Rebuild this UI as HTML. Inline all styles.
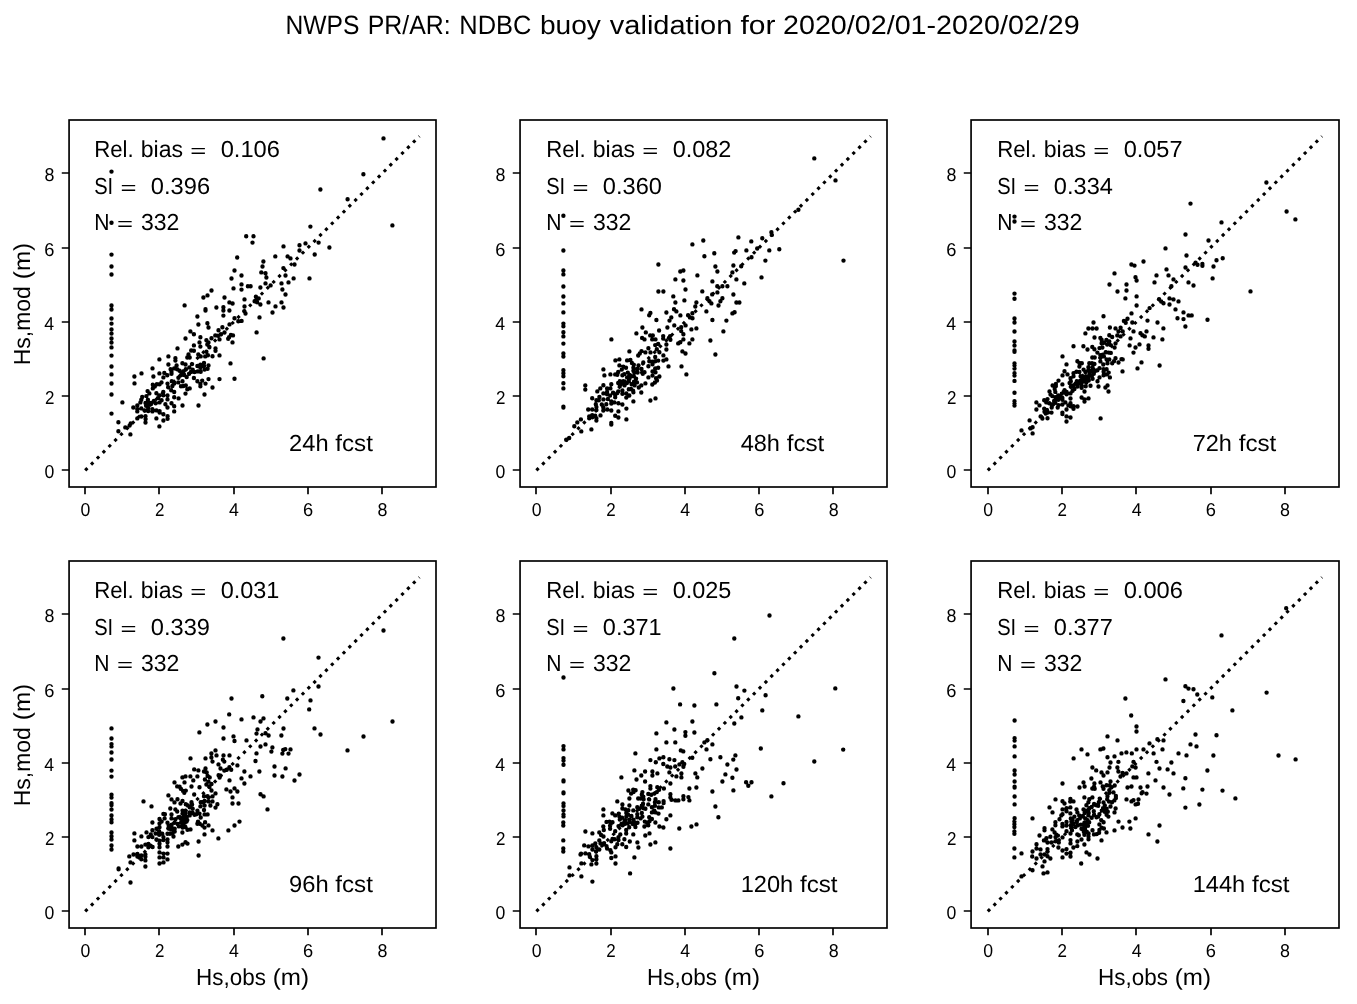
<!DOCTYPE html>
<html lang="en"><head><meta charset="utf-8"><title>NWPS PR/AR: NDBC buoy validation</title>
<style>html,body{margin:0;padding:0;background:#fff}body{width:1357px;height:1004px;overflow:hidden}svg{display:block;will-change:transform}text{font-family:"Liberation Sans",sans-serif;fill:#000;text-rendering:geometricPrecision}.t{font-size:18.6px}.l{font-size:23.2px}.h{font-size:26.4px}.e{font-size:18.56px}</style></head><body>
<svg width="1357" height="1004" viewBox="0 0 1357 1004">
<rect width="1357" height="1004" fill="#fff"/>
<text class="h" y="34.00"><tspan x="285.38" textLength="73.97" lengthAdjust="spacingAndGlyphs">NWPS</tspan> <tspan x="367.67" textLength="83.01" lengthAdjust="spacingAndGlyphs">PR/AR:</tspan> <tspan x="459.34" textLength="72.11" lengthAdjust="spacingAndGlyphs">NDBC</tspan> <tspan x="539.93" textLength="60.96" lengthAdjust="spacingAndGlyphs">buoy</tspan> <tspan x="609.87" textLength="122.50" lengthAdjust="spacingAndGlyphs">validation</tspan> <tspan x="740.41" textLength="35.02" lengthAdjust="spacingAndGlyphs">for</tspan> <tspan x="782.97" textLength="296.72" lengthAdjust="spacingAndGlyphs">2020/02/01-2020/02/29</tspan></text>
<g>
<rect x="69.07" y="120.00" width="366.93" height="367.00" fill="none" stroke="#000" stroke-width="1.67"/>
<path d="M85.00 487.00v7.3M69.07 470.00h-7.3M159.00 487.00v7.3M69.07 396.00h-7.3M234.00 487.00v7.3M69.07 322.00h-7.3M308.00 487.00v7.3M69.07 248.00h-7.3M382.00 487.00v7.3M69.07 173.00h-7.3" stroke="#000" stroke-width="1.67" fill="none"/>
<text class="t" y="515.70"><tspan x="80.54" textLength="9.83" lengthAdjust="spacingAndGlyphs">0</tspan></text>
<text class="t" y="478.10"><tspan x="44.43" textLength="9.83" lengthAdjust="spacingAndGlyphs">0</tspan></text>
<text class="t" y="515.70"><tspan x="154.99" textLength="9.44" lengthAdjust="spacingAndGlyphs">2</tspan></text>
<text class="t" y="404.10"><tspan x="44.98" textLength="9.44" lengthAdjust="spacingAndGlyphs">2</tspan></text>
<text class="t" y="515.70"><tspan x="229.10" textLength="9.85" lengthAdjust="spacingAndGlyphs">4</tspan></text>
<text class="t" y="330.10"><tspan x="44.24" textLength="9.85" lengthAdjust="spacingAndGlyphs">4</tspan></text>
<text class="t" y="515.70"><tspan x="303.08" textLength="10.17" lengthAdjust="spacingAndGlyphs">6</tspan></text>
<text class="t" y="256.10"><tspan x="44.20" textLength="10.17" lengthAdjust="spacingAndGlyphs">6</tspan></text>
<text class="t" y="515.70"><tspan x="377.52" textLength="9.93" lengthAdjust="spacingAndGlyphs">8</tspan></text>
<text class="t" y="181.10"><tspan x="44.41" textLength="9.93" lengthAdjust="spacingAndGlyphs">8</tspan></text>
<path d="M85.20 470.40L419.37 136.23" stroke="#000" stroke-width="3.1" stroke-dasharray="3.125 5.156" fill="none"/>
<path d="M134.5 383.4h0M122.4 402.4h0M118.4 422.3h0M118.4 431.3h0M130.4 434.4h0M125.3 427.4h0M129.6 425.5h0M130.7 423.5h0M137.3 418.4h0M141.3 416.5h0M145.5 416.3h0M145.6 419.1h0M145.5 422.5h0M156.4 418.4h0M159.4 426.4h0M163.4 420.5h0M163.4 414.2h0M167.6 416.3h0M167.6 418.7h0M133.3 407.5h0M137.3 405.4h0M137.3 409.3h0M137.3 411.4h0M141.3 408.4h0M144.6 410.5h0M148.2 408.1h0M148.2 411.1h0M152.4 409.3h0M152.4 411.4h0M156.4 410.4h0M159.6 411.1h0M159.6 412.6h0M165.4 404.2h0M167.5 407.5h0M171.5 403.3h0M174.2 406.3h0M174.2 411.4h0M167.5 395.4h0M167.5 399.4h0M174.2 397.3h0M142.2 397.0h0M141.3 399.7h0M140.4 402.4h0M146.4 396.1h0M147.6 391.1h0M149.4 393.4h0M156.4 393.3h0M163.3 392.0h0M163.3 395.2h0M159.3 395.5h0M145.5 403.0h0M147.9 399.7h0M149.1 402.7h0M151.5 403.0h0M153.9 400.9h0M155.7 403.3h0M158.1 397.9h0M159.6 402.4h0M161.6 400.3h0M146.1 405.7h0M148.5 405.1h0M150.9 403.9h0M152.8 384.8h0M152.8 388.4h0M154.8 386.6h0M156.9 384.2h0M159.6 384.2h0M161.5 382.4h0M167.5 383.6h0M168.2 387.2h0M171.2 390.2h0M172.4 386.0h0M174.2 383.6h0M174.2 392.0h0M171.8 381.2h0M178.3 382.4h0M182.5 381.2h0M178.6 398.4h0M182.5 405.5h0M185.5 393.6h0M181.0 386.3h0M183.4 386.0h0M185.8 385.4h0M187.3 389.3h0M189.7 388.4h0M198.5 405.5h0M204.5 394.5h0M212.5 387.5h0M205.5 383.6h0M200.4 383.9h0M200.4 386.3h0M197.4 381.3h0M202.2 380.6h0M134.4 376.5h0M141.5 373.4h0M152.5 368.4h0M153.4 376.5h0M159.4 373.4h0M159.4 359.4h0M168.4 356.4h0M168.4 364.5h0M177.5 348.4h0M185.5 338.5h0M190.4 331.4h0M193.9 334.3h0M193.9 345.4h0M191.2 350.5h0M193.9 350.8h0M188.5 354.4h0M187.3 357.5h0M189.7 357.5h0M175.4 358.2h0M175.4 360.6h0M176.6 365.4h0M182.4 363.3h0M185.5 364.5h0M192.1 364.1h0M189.4 367.5h0M170.6 369.3h0M171.5 372.0h0M171.5 373.8h0M174.2 368.4h0M164.3 372.9h0M167.3 375.3h0M163.4 377.4h0M177.2 369.3h0M179.6 370.8h0M181.9 372.6h0M184.3 375.0h0M186.7 377.1h0M185.8 369.3h0M183.7 371.1h0M180.8 375.3h0M178.4 377.7h0M192.7 369.6h0M190.9 372.0h0M189.1 373.8h0M193.9 378.0h0M194.5 372.0h0M198.4 324.5h0M207.4 323.3h0M208.5 327.5h0M200.4 337.3h0M199.5 342.4h0M200.4 346.6h0M206.4 340.3h0M208.5 342.4h0M207.3 344.5h0M209.4 347.2h0M211.5 338.2h0M215.3 335.4h0M218.0 335.8h0M219.5 339.4h0M221.0 334.3h0M218.5 330.3h0M222.4 327.3h0M224.5 332.5h0M229.5 324.4h0M238.3 321.2h0M241.6 320.9h0M230.9 334.9h0M233.0 335.4h0M229.1 337.3h0M228.2 338.8h0M232.5 342.4h0M256.6 332.4h0M263.6 358.4h0M230.5 363.4h0M215.5 348.4h0M215.5 350.8h0M219.5 355.4h0M212.5 356.3h0M206.4 351.7h0M207.9 355.3h0M205.2 356.4h0M198.3 354.4h0M200.7 356.4h0M197.4 366.0h0M200.4 364.8h0M204.0 363.0h0M204.0 366.0h0M208.5 365.4h0M200.4 367.8h0M204.6 369.6h0M207.6 368.7h0M197.7 371.4h0M200.7 371.7h0M208.5 379.1h0M219.5 379.1h0M234.5 378.8h0M234.5 270.5h0M241.5 275.5h0M231.5 278.5h0M241.5 284.4h0M247.9 286.3h0M250.6 286.3h0M233.5 288.4h0M241.5 289.6h0M211.5 290.5h0M207.5 295.4h0M203.4 297.5h0M224.5 297.5h0M229.4 302.4h0M232.6 303.5h0M244.5 299.4h0M244.5 306.5h0M184.6 305.4h0M205.5 309.3h0M205.5 310.5h0M216.4 307.5h0M223.4 307.2h0M223.4 310.5h0M229.4 310.5h0M223.4 315.6h0M197.4 316.5h0M244.3 311.1h0M245.5 313.5h0M234.5 318.3h0M263.4 261.5h0M262.5 266.5h0M261.3 272.4h0M265.5 273.3h0M266.4 277.5h0M265.5 283.4h0M260.4 287.5h0M270.6 285.4h0M283.4 268.1h0M294.5 264.5h0M285.5 275.5h0M293.6 278.4h0M288.5 282.4h0M281.5 283.4h0M282.4 289.5h0M285.5 294.5h0M309.5 278.4h0M255.9 296.7h0M258.7 298.4h0M254.6 301.2h0M257.1 302.3h0M260.4 304.5h0M268.5 302.4h0M275.5 306.4h0M281.5 302.4h0M283.5 307.5h0M272.5 312.5h0M259.5 317.4h0M383.5 138.4h0M363.4 174.3h0M320.4 189.5h0M347.6 199.2h0M392.4 225.4h0M310.4 226.6h0M246.2 236.3h0M253.5 236.3h0M252.5 242.6h0M283.5 246.4h0M299.5 245.2h0M305.5 243.4h0M318.6 242.6h0M329.4 247.5h0M299.5 250.5h0M314.7 254.5h0M275.3 256.4h0M287.6 256.4h0M290.5 258.4h0M237.2 257.5h0M111.5 171.6h0M111.5 222.8h0M111.5 254.6h0M111.5 266.5h0M111.5 274.5h0M111.5 305.5h0M111.5 309.5h0M111.5 318.5h0M111.5 323.6h0M111.5 329.4h0M111.5 333.6h0M111.5 338.5h0M111.5 342.6h0M111.5 347.4h0M111.5 355.6h0M111.5 366.5h0M111.5 374.4h0M111.5 383.5h0M111.5 394.5h0M111.5 413.6h0" stroke="#000" stroke-width="4.4" stroke-linecap="round" fill="none"/>
<text class="l" y="157.10"><tspan x="94.18" textLength="39.56" lengthAdjust="spacingAndGlyphs">Rel.</tspan> <tspan x="140.68" textLength="42.34" lengthAdjust="spacingAndGlyphs">bias</tspan> <tspan x="190.39" textLength="16.03" lengthAdjust="spacingAndGlyphs" class="e">=</tspan> <tspan x="220.67" textLength="59.21" lengthAdjust="spacingAndGlyphs">0.106</tspan></text>
<text class="l" y="193.60"><tspan x="94.19" textLength="19.02" lengthAdjust="spacingAndGlyphs">SI</tspan> <tspan x="120.58" textLength="16.03" lengthAdjust="spacingAndGlyphs" class="e">=</tspan> <tspan x="150.86" textLength="59.21" lengthAdjust="spacingAndGlyphs">0.396</tspan></text>
<text class="l" y="229.80"><tspan x="94.27" textLength="15.25" lengthAdjust="spacingAndGlyphs">N</tspan> <tspan x="117.03" textLength="16.03" lengthAdjust="spacingAndGlyphs" class="e">=</tspan> <tspan x="140.94" textLength="38.42" lengthAdjust="spacingAndGlyphs">332</tspan></text>
<text class="l" y="450.90"><tspan x="289.14" textLength="39.44" lengthAdjust="spacingAndGlyphs">24h</tspan> <tspan x="335.26" textLength="37.65" lengthAdjust="spacingAndGlyphs">fcst</tspan></text>
<text class="l" transform="translate(30.20 365.44) rotate(-90)" y="0"><tspan x="0.16" textLength="79.12" lengthAdjust="spacingAndGlyphs">Hs,mod</tspan> <tspan x="86.31" textLength="36.26" lengthAdjust="spacingAndGlyphs">(m)</tspan></text>
</g>
<g>
<rect x="520.05" y="120.00" width="366.95" height="367.00" fill="none" stroke="#000" stroke-width="1.67"/>
<path d="M536.00 487.00v7.3M520.05 470.00h-7.3M611.00 487.00v7.3M520.05 396.00h-7.3M685.00 487.00v7.3M520.05 322.00h-7.3M759.00 487.00v7.3M520.05 248.00h-7.3M833.00 487.00v7.3M520.05 173.00h-7.3" stroke="#000" stroke-width="1.67" fill="none"/>
<text class="t" y="515.70"><tspan x="531.74" textLength="9.83" lengthAdjust="spacingAndGlyphs">0</tspan></text>
<text class="t" y="478.10"><tspan x="495.41" textLength="9.83" lengthAdjust="spacingAndGlyphs">0</tspan></text>
<text class="t" y="515.70"><tspan x="606.19" textLength="9.44" lengthAdjust="spacingAndGlyphs">2</tspan></text>
<text class="t" y="404.10"><tspan x="495.96" textLength="9.44" lengthAdjust="spacingAndGlyphs">2</tspan></text>
<text class="t" y="515.70"><tspan x="680.30" textLength="9.85" lengthAdjust="spacingAndGlyphs">4</tspan></text>
<text class="t" y="330.10"><tspan x="495.22" textLength="9.85" lengthAdjust="spacingAndGlyphs">4</tspan></text>
<text class="t" y="515.70"><tspan x="754.28" textLength="10.17" lengthAdjust="spacingAndGlyphs">6</tspan></text>
<text class="t" y="256.10"><tspan x="495.18" textLength="10.17" lengthAdjust="spacingAndGlyphs">6</tspan></text>
<text class="t" y="515.70"><tspan x="828.72" textLength="9.93" lengthAdjust="spacingAndGlyphs">8</tspan></text>
<text class="t" y="181.10"><tspan x="495.39" textLength="9.93" lengthAdjust="spacingAndGlyphs">8</tspan></text>
<path d="M536.40 470.40L870.57 136.23" stroke="#000" stroke-width="3.1" stroke-dasharray="3.125 5.156" fill="none"/>
<path d="M563.4 383.3h0M563.4 388.4h0M563.4 406.6h0M563.4 407.6h0M569.2 438.0h0M566.2 439.7h0M574.3 426.3h0M577.3 422.4h0M580.9 419.4h0M581.3 431.4h0M591.4 429.4h0M585.3 385.4h0M585.3 389.6h0M597.3 391.4h0M600.3 388.4h0M603.4 385.3h0M611.3 384.2h0M607.1 388.4h0M610.4 388.4h0M592.2 398.3h0M599.4 397.0h0M596.4 400.3h0M598.8 400.3h0M603.4 399.4h0M595.8 404.2h0M601.8 404.5h0M606.3 404.2h0M607.8 399.1h0M588.2 409.5h0M592.2 409.5h0M596.4 406.9h0M596.4 409.9h0M603.3 407.5h0M603.3 410.5h0M607.3 409.5h0M611.3 410.5h0M589.2 416.4h0M592.2 415.3h0M595.2 415.8h0M589.2 418.2h0M596.4 418.2h0M596.4 420.6h0M600.5 415.4h0M592.2 417.3h0M611.3 423.0h0M611.3 424.5h0M615.2 415.8h0M618.4 417.5h0M618.4 411.4h0M626.4 419.4h0M626.4 408.6h0M622.4 404.5h0M618.4 403.3h0M633.4 401.4h0M611.3 401.5h0M611.3 403.6h0M614.3 402.4h0M603.4 393.4h0M607.1 391.9h0M607.1 394.3h0M610.1 395.5h0M613.1 392.8h0M615.2 394.9h0M615.2 397.3h0M617.3 393.1h0M618.2 391.4h0M622.4 390.5h0M622.4 393.7h0M626.3 393.4h0M629.3 395.5h0M626.3 397.6h0M628.8 389.3h0M631.0 389.0h0M633.4 392.2h0M633.1 390.8h0M618.2 383.0h0M619.8 386.0h0M622.1 383.6h0M624.5 385.4h0M626.9 383.0h0M628.8 381.2h0M631.6 384.2h0M634.6 385.4h0M637.0 382.4h0M638.8 387.5h0M619.8 381.2h0M623.3 381.2h0M634.0 381.8h0M645.4 383.4h0M641.3 385.4h0M641.3 392.5h0M650.4 400.5h0M655.5 398.4h0M652.3 384.5h0M654.9 382.5h0M657.0 380.5h0M611.4 339.4h0M603.4 369.4h0M604.4 375.4h0M610.4 374.4h0M615.4 360.4h0M619.4 359.4h0M619.4 365.4h0M629.4 351.4h0M636.4 333.4h0M642.4 327.5h0M645.8 332.4h0M656.4 320.0h0M659.1 330.5h0M650.2 335.4h0M652.8 335.4h0M642.1 337.9h0M644.5 339.4h0M652.2 339.4h0M655.5 339.4h0M648.4 348.2h0M655.2 345.1h0M658.2 343.9h0M641.5 351.1h0M639.8 353.5h0M638.2 355.5h0M645.4 352.4h0M650.5 352.4h0M656.8 349.3h0M659.4 352.3h0M655.2 357.0h0M649.3 361.2h0M652.2 361.8h0M655.2 361.2h0M658.2 360.6h0M652.5 364.2h0M643.3 362.4h0M648.4 366.3h0M627.1 360.4h0M630.4 360.0h0M631.9 363.0h0M633.8 364.8h0M633.4 367.8h0M633.4 370.8h0M638.5 365.4h0M637.3 369.0h0M637.6 372.6h0M634.3 372.6h0M623.3 366.6h0M626.0 367.8h0M621.8 369.6h0M618.2 372.0h0M615.2 374.4h0M617.3 374.7h0M624.2 374.1h0M622.4 375.3h0M627.8 372.6h0M629.5 375.0h0M641.5 369.0h0M642.1 372.6h0M644.5 372.3h0M642.8 373.8h0M631.3 376.2h0M633.8 376.2h0M629.5 378.6h0M636.1 378.6h0M627.1 377.4h0M648.4 377.4h0M652.5 375.6h0M652.5 371.4h0M655.5 372.3h0M655.2 368.4h0M658.2 367.8h0M656.1 378.3h0M659.4 376.5h0M669.5 320.6h0M667.4 327.5h0M674.3 325.4h0M663.2 336.1h0M663.2 338.5h0M670.1 336.1h0M668.9 337.9h0M670.4 339.7h0M681.2 327.2h0M685.6 325.4h0M681.2 331.1h0M683.4 334.3h0M683.4 339.4h0M691.4 329.4h0M696.4 328.4h0M692.4 339.4h0M689.4 343.4h0M678.2 343.4h0M680.3 342.2h0M666.4 344.5h0M666.4 349.5h0M663.4 355.4h0M663.4 360.6h0M666.4 359.4h0M682.4 351.4h0M685.5 353.5h0M668.5 366.4h0M681.5 366.4h0M686.4 374.4h0M710.4 340.5h0M715.4 354.5h0M723.4 331.4h0M712.4 320.0h0M726.4 320.6h0M658.4 264.5h0M680.3 271.5h0M683.4 270.5h0M697.4 275.4h0M675.4 279.4h0M683.4 280.5h0M685.5 289.5h0M658.4 291.5h0M663.4 291.5h0M673.3 296.4h0M675.4 302.5h0M684.4 300.4h0M696.4 302.4h0M695.3 306.5h0M692.4 313.2h0M641.5 309.4h0M650.4 312.9h0M649.2 315.3h0M666.4 312.5h0M674.0 309.3h0M676.4 311.4h0M680.4 315.4h0M671.3 317.4h0M688.1 315.3h0M689.9 317.4h0M692.5 318.3h0M715.4 266.5h0M717.4 271.5h0M733.4 265.5h0M732.4 272.4h0M741.2 266.3h0M736.4 279.4h0M744.3 283.4h0M761.5 277.4h0M765.4 260.6h0M712.4 281.4h0M717.3 286.3h0M722.4 286.3h0M727.4 286.3h0M702.3 291.4h0M717.4 292.4h0M712.2 294.4h0M733.4 294.5h0M707.4 298.2h0M709.5 301.2h0M711.4 303.4h0M722.4 298.2h0M720.4 301.2h0M718.5 305.5h0M736.4 302.5h0M739.4 302.5h0M706.4 311.4h0M732.4 313.4h0M734.6 312.3h0M692.4 244.4h0M703.3 240.5h0M704.4 256.3h0M714.3 253.3h0M738.4 237.4h0M751.3 241.4h0M762.3 238.3h0M771.4 232.3h0M771.8 234.9h0M757.2 248.5h0M746.4 250.4h0M734.2 252.6h0M735.6 251.1h0M769.3 250.4h0M779.3 249.3h0M751.5 257.3h0M814.3 158.4h0M835.5 180.4h0M798.4 209.7h0M843.5 260.6h0M563.4 215.7h0M563.4 250.5h0M563.4 270.4h0M563.4 274.4h0M563.4 286.5h0M563.4 296.5h0M563.4 303.4h0M563.4 312.4h0M563.4 323.6h0M563.4 326.3h0M563.4 332.3h0M563.4 336.4h0M563.4 343.6h0M563.4 353.5h0M563.4 356.5h0M563.4 370.2h0M563.4 373.3h0M563.4 376.2h0" stroke="#000" stroke-width="4.4" stroke-linecap="round" fill="none"/>
<text class="l" y="157.10"><tspan x="546.18" textLength="39.56" lengthAdjust="spacingAndGlyphs">Rel.</tspan> <tspan x="592.68" textLength="42.34" lengthAdjust="spacingAndGlyphs">bias</tspan> <tspan x="642.39" textLength="16.03" lengthAdjust="spacingAndGlyphs" class="e">=</tspan> <tspan x="672.68" textLength="58.57" lengthAdjust="spacingAndGlyphs">0.082</tspan></text>
<text class="l" y="193.60"><tspan x="546.19" textLength="19.02" lengthAdjust="spacingAndGlyphs">SI</tspan> <tspan x="572.58" textLength="16.03" lengthAdjust="spacingAndGlyphs" class="e">=</tspan> <tspan x="602.86" textLength="59.02" lengthAdjust="spacingAndGlyphs">0.360</tspan></text>
<text class="l" y="229.80"><tspan x="546.27" textLength="15.25" lengthAdjust="spacingAndGlyphs">N</tspan> <tspan x="569.03" textLength="16.03" lengthAdjust="spacingAndGlyphs" class="e">=</tspan> <tspan x="592.94" textLength="38.42" lengthAdjust="spacingAndGlyphs">332</tspan></text>
<text class="l" y="450.90"><tspan x="740.68" textLength="39.29" lengthAdjust="spacingAndGlyphs">48h</tspan> <tspan x="786.66" textLength="37.65" lengthAdjust="spacingAndGlyphs">fcst</tspan></text>
</g>
<g>
<rect x="971.07" y="120.00" width="367.93" height="367.00" fill="none" stroke="#000" stroke-width="1.67"/>
<path d="M988.00 487.00v7.3M971.07 470.00h-7.3M1062.00 487.00v7.3M971.07 396.00h-7.3M1136.00 487.00v7.3M971.07 322.00h-7.3M1211.00 487.00v7.3M971.07 248.00h-7.3M1285.00 487.00v7.3M971.07 173.00h-7.3" stroke="#000" stroke-width="1.67" fill="none"/>
<text class="t" y="515.70"><tspan x="983.14" textLength="9.83" lengthAdjust="spacingAndGlyphs">0</tspan></text>
<text class="t" y="478.10"><tspan x="946.43" textLength="9.83" lengthAdjust="spacingAndGlyphs">0</tspan></text>
<text class="t" y="515.70"><tspan x="1057.59" textLength="9.44" lengthAdjust="spacingAndGlyphs">2</tspan></text>
<text class="t" y="404.10"><tspan x="946.98" textLength="9.44" lengthAdjust="spacingAndGlyphs">2</tspan></text>
<text class="t" y="515.70"><tspan x="1131.70" textLength="9.85" lengthAdjust="spacingAndGlyphs">4</tspan></text>
<text class="t" y="330.10"><tspan x="946.24" textLength="9.85" lengthAdjust="spacingAndGlyphs">4</tspan></text>
<text class="t" y="515.70"><tspan x="1205.68" textLength="10.17" lengthAdjust="spacingAndGlyphs">6</tspan></text>
<text class="t" y="256.10"><tspan x="946.20" textLength="10.17" lengthAdjust="spacingAndGlyphs">6</tspan></text>
<text class="t" y="515.70"><tspan x="1280.12" textLength="9.93" lengthAdjust="spacingAndGlyphs">8</tspan></text>
<text class="t" y="181.10"><tspan x="946.41" textLength="9.93" lengthAdjust="spacingAndGlyphs">8</tspan></text>
<path d="M987.80 470.40L1321.97 136.23" stroke="#000" stroke-width="3.1" stroke-dasharray="3.125 5.156" fill="none"/>
<path d="M1014.5 380.9h0M1014.5 392.8h0M1014.5 401.2h0M1014.5 403.4h0M1014.5 405.6h0M1021.5 430.4h0M1029.6 420.4h0M1032.6 427.2h0M1030.5 428.4h0M1032.6 433.4h0M1036.4 402.4h0M1039.5 405.4h0M1036.4 409.5h0M1040.6 416.4h0M1042.4 418.5h0M1047.5 418.2h0M1044.2 408.7h0M1044.5 411.7h0M1046.9 409.9h0M1047.8 412.6h0M1045.7 413.5h0M1051.5 412.6h0M1044.2 400.3h0M1047.5 399.1h0M1046.3 402.4h0M1049.3 403.3h0M1051.7 404.5h0M1051.7 407.5h0M1049.5 391.4h0M1050.5 394.6h0M1052.3 396.1h0M1055.3 391.9h0M1054.7 389.0h0M1052.6 385.5h0M1055.9 383.9h0M1058.5 380.6h0M1062.4 384.4h0M1055.9 386.0h0M1055.3 397.3h0M1058.2 395.5h0M1060.6 396.7h0M1056.5 399.7h0M1058.2 399.7h0M1055.3 402.7h0M1054.1 400.9h0M1062.4 397.9h0M1062.4 399.7h0M1061.8 393.7h0M1064.5 390.2h0M1066.6 391.9h0M1066.6 394.3h0M1063.6 391.9h0M1070.5 393.4h0M1070.5 398.5h0M1072.6 390.8h0M1074.4 389.0h0M1057.7 407.5h0M1058.5 405.1h0M1062.4 404.5h0M1065.4 402.4h0M1070.5 403.3h0M1068.4 405.4h0M1070.8 406.3h0M1073.5 406.3h0M1073.5 408.7h0M1077.5 406.5h0M1066.5 409.5h0M1062.4 412.6h0M1062.4 414.1h0M1066.5 416.4h0M1070.5 417.5h0M1066.5 421.5h0M1081.6 397.5h0M1084.5 399.4h0M1084.5 401.5h0M1088.5 398.4h0M1084.5 391.5h0M1081.6 387.8h0M1081.6 385.4h0M1085.7 386.3h0M1090.5 385.7h0M1069.6 383.0h0M1070.8 386.6h0M1073.2 385.4h0M1075.6 383.6h0M1077.4 386.6h0M1079.2 383.0h0M1070.8 381.2h0M1082.7 381.8h0M1086.3 382.4h0M1076.8 381.2h0M1080.4 380.6h0M1088.7 380.6h0M1100.6 418.4h0M1108.5 391.5h0M1105.4 387.5h0M1107.5 385.4h0M1098.5 386.5h0M1097.5 381.3h0M1093.5 322.5h0M1088.4 328.5h0M1092.5 328.5h0M1096.6 328.5h0M1109.9 327.5h0M1085.4 333.4h0M1094.5 337.5h0M1109.3 335.2h0M1100.4 337.9h0M1101.6 339.7h0M1106.4 340.0h0M1109.3 341.5h0M1101.6 343.3h0M1103.9 342.7h0M1107.2 344.5h0M1110.8 345.1h0M1073.5 346.3h0M1083.4 346.3h0M1087.5 349.5h0M1092.3 346.9h0M1094.4 349.3h0M1097.4 352.6h0M1099.5 348.1h0M1102.4 347.5h0M1062.5 356.4h0M1066.5 364.4h0M1092.3 357.5h0M1094.7 357.5h0M1105.7 352.3h0M1108.7 352.6h0M1110.8 352.9h0M1100.4 355.3h0M1102.7 354.7h0M1103.9 356.4h0M1100.4 357.6h0M1100.4 361.4h0M1106.6 359.4h0M1109.3 359.4h0M1103.3 364.5h0M1107.5 363.3h0M1077.4 361.2h0M1079.4 363.0h0M1081.8 363.3h0M1079.4 366.6h0M1089.3 363.3h0M1092.0 363.3h0M1094.4 363.9h0M1064.5 371.2h0M1062.5 375.4h0M1067.5 374.4h0M1073.5 373.2h0M1076.5 371.7h0M1079.4 372.0h0M1073.5 376.2h0M1070.5 378.3h0M1083.6 369.6h0M1088.4 367.2h0M1092.6 367.2h0M1085.4 372.0h0M1088.4 370.8h0M1091.4 370.8h0M1093.2 369.6h0M1095.6 370.8h0M1097.4 370.2h0M1099.5 368.1h0M1093.8 373.8h0M1092.0 375.6h0M1103.6 369.3h0M1106.6 369.3h0M1103.6 371.7h0M1108.7 372.6h0M1106.9 374.4h0M1103.6 375.3h0M1099.5 377.4h0M1109.9 377.4h0M1080.6 376.2h0M1083.0 376.8h0M1086.0 376.2h0M1088.4 377.4h0M1084.8 379.1h0M1081.8 379.1h0M1092.6 378.8h0M1089.6 373.8h0M1115.5 328.4h0M1120.6 327.8h0M1118.5 331.4h0M1122.7 331.4h0M1117.3 335.4h0M1120.6 336.4h0M1112.2 337.0h0M1115.5 343.4h0M1114.6 347.6h0M1123.9 320.9h0M1125.7 322.7h0M1132.3 322.5h0M1133.5 331.4h0M1130.5 338.4h0M1129.6 345.4h0M1135.5 347.5h0M1139.5 344.4h0M1133.5 352.6h0M1140.5 333.3h0M1142.4 335.2h0M1144.8 336.4h0M1146.5 331.4h0M1153.5 337.4h0M1162.4 339.4h0M1163.4 328.4h0M1157.5 322.5h0M1147.5 320.6h0M1185.4 326.5h0M1148.5 345.4h0M1148.5 348.7h0M1141.5 362.4h0M1137.5 368.4h0M1159.6 365.5h0M1122.5 371.4h0M1115.5 358.2h0M1121.5 359.1h0M1122.7 359.4h0M1118.5 362.5h0M1114.0 361.2h0M1112.2 363.3h0M1143.5 261.5h0M1131.4 264.5h0M1134.5 265.6h0M1114.5 273.4h0M1135.5 277.3h0M1136.6 280.5h0M1109.5 284.5h0M1126.5 284.5h0M1126.5 290.5h0M1117.5 291.5h0M1125.4 298.4h0M1136.6 296.4h0M1136.6 305.5h0M1131.5 313.4h0M1103.5 316.3h0M1149.6 308.1h0M1127.5 318.8h0M1166.5 269.4h0M1156.5 275.4h0M1154.5 282.4h0M1168.5 275.4h0M1173.5 279.4h0M1171.4 286.3h0M1185.5 267.5h0M1195.6 262.7h0M1197.5 264.7h0M1202.4 263.9h0M1202.4 265.7h0M1213.5 266.5h0M1216.5 260.3h0M1212.6 278.4h0M1188.5 282.4h0M1193.5 285.5h0M1159.1 299.1h0M1161.2 301.5h0M1163.5 303.3h0M1169.5 298.4h0M1173.5 299.4h0M1178.5 301.4h0M1169.5 304.5h0M1175.5 309.4h0M1183.5 312.4h0M1188.5 315.4h0M1191.7 315.4h0M1177.5 318.3h0M1183.5 319.1h0M1207.5 319.7h0M1190.5 203.6h0M1221.5 222.4h0M1185.5 234.5h0M1208.5 240.5h0M1165.5 248.4h0M1186.5 255.5h0M1222.7 258.2h0M1266.4 182.5h0M1286.6 211.5h0M1295.4 219.4h0M1250.5 291.4h0M1014.5 216.6h0M1014.5 221.5h0M1014.5 293.6h0M1014.5 298.7h0M1014.5 318.5h0M1014.5 322.5h0M1014.5 331.5h0M1014.5 341.5h0M1014.5 345.6h0M1014.5 350.5h0M1014.5 351.8h0M1014.5 363.5h0M1014.5 365.3h0M1014.5 368.6h0M1014.5 373.3h0M1014.5 375.6h0" stroke="#000" stroke-width="4.4" stroke-linecap="round" fill="none"/>
<text class="l" y="157.10"><tspan x="997.18" textLength="39.56" lengthAdjust="spacingAndGlyphs">Rel.</tspan> <tspan x="1043.68" textLength="42.34" lengthAdjust="spacingAndGlyphs">bias</tspan> <tspan x="1093.39" textLength="16.03" lengthAdjust="spacingAndGlyphs" class="e">=</tspan> <tspan x="1123.67" textLength="58.88" lengthAdjust="spacingAndGlyphs">0.057</tspan></text>
<text class="l" y="193.60"><tspan x="997.19" textLength="19.02" lengthAdjust="spacingAndGlyphs">SI</tspan> <tspan x="1023.58" textLength="16.03" lengthAdjust="spacingAndGlyphs" class="e">=</tspan> <tspan x="1053.86" textLength="59.00" lengthAdjust="spacingAndGlyphs">0.334</tspan></text>
<text class="l" y="229.80"><tspan x="997.27" textLength="15.25" lengthAdjust="spacingAndGlyphs">N</tspan> <tspan x="1020.03" textLength="16.03" lengthAdjust="spacingAndGlyphs" class="e">=</tspan> <tspan x="1043.94" textLength="38.42" lengthAdjust="spacingAndGlyphs">332</tspan></text>
<text class="l" y="450.90"><tspan x="1192.70" textLength="39.26" lengthAdjust="spacingAndGlyphs">72h</tspan> <tspan x="1238.66" textLength="37.65" lengthAdjust="spacingAndGlyphs">fcst</tspan></text>
</g>
<g>
<rect x="69.07" y="561.00" width="366.93" height="367.00" fill="none" stroke="#000" stroke-width="1.67"/>
<path d="M85.00 928.00v7.3M69.07 911.00h-7.3M159.00 928.00v7.3M69.07 837.00h-7.3M234.00 928.00v7.3M69.07 763.00h-7.3M308.00 928.00v7.3M69.07 689.00h-7.3M382.00 928.00v7.3M69.07 614.00h-7.3" stroke="#000" stroke-width="1.67" fill="none"/>
<text class="t" y="956.70"><tspan x="80.54" textLength="9.83" lengthAdjust="spacingAndGlyphs">0</tspan></text>
<text class="t" y="919.10"><tspan x="44.43" textLength="9.83" lengthAdjust="spacingAndGlyphs">0</tspan></text>
<text class="t" y="956.70"><tspan x="154.99" textLength="9.44" lengthAdjust="spacingAndGlyphs">2</tspan></text>
<text class="t" y="845.10"><tspan x="44.98" textLength="9.44" lengthAdjust="spacingAndGlyphs">2</tspan></text>
<text class="t" y="956.70"><tspan x="229.10" textLength="9.85" lengthAdjust="spacingAndGlyphs">4</tspan></text>
<text class="t" y="771.10"><tspan x="44.24" textLength="9.85" lengthAdjust="spacingAndGlyphs">4</tspan></text>
<text class="t" y="956.70"><tspan x="303.08" textLength="10.17" lengthAdjust="spacingAndGlyphs">6</tspan></text>
<text class="t" y="697.10"><tspan x="44.20" textLength="10.17" lengthAdjust="spacingAndGlyphs">6</tspan></text>
<text class="t" y="956.70"><tspan x="377.52" textLength="9.93" lengthAdjust="spacingAndGlyphs">8</tspan></text>
<text class="t" y="622.10"><tspan x="44.41" textLength="9.93" lengthAdjust="spacingAndGlyphs">8</tspan></text>
<path d="M85.20 911.40L419.37 577.23" stroke="#000" stroke-width="3.1" stroke-dasharray="3.125 5.156" fill="none"/>
<path d="M111.5 822.2h0M111.5 832.4h0M111.5 836.2h0M111.5 839.5h0M111.5 845.5h0M111.5 849.5h0M118.6 868.4h0M118.6 869.3h0M130.5 862.4h0M145.4 866.5h0M129.3 856.4h0M133.5 854.5h0M137.4 853.9h0M137.4 856.5h0M141.3 855.4h0M141.3 859.2h0M145.4 854.5h0M145.4 856.8h0M145.4 860.4h0M139.5 857.4h0M134.4 833.4h0M134.4 840.4h0M141.4 836.4h0M137.4 846.5h0M141.4 846.5h0M145.4 844.6h0M148.4 844.0h0M148.4 847.3h0M150.5 845.8h0M152.6 847.0h0M146.5 832.4h0M152.4 830.3h0M148.4 837.1h0M152.4 837.1h0M150.8 834.4h0M156.5 828.8h0M159.5 827.3h0M159.2 831.5h0M159.2 834.7h0M155.6 833.5h0M162.2 833.8h0M163.4 837.1h0M163.4 840.1h0M156.5 839.5h0M159.5 840.7h0M159.5 843.7h0M159.5 847.3h0M167.5 833.8h0M169.9 833.8h0M172.3 833.8h0M173.5 836.5h0M167.5 839.5h0M167.5 842.2h0M167.5 846.5h0M178.3 846.5h0M159.5 852.4h0M163.5 853.6h0M167.5 853.6h0M159.5 857.4h0M163.5 857.4h0M167.5 859.4h0M159.5 863.5h0M163.5 862.4h0M152.4 822.5h0M159.5 823.4h0M161.6 821.6h0M167.5 822.8h0M168.7 825.8h0M171.7 824.6h0M174.7 822.8h0M177.7 824.0h0M178.9 826.4h0M171.7 827.6h0M174.7 828.8h0M174.7 831.5h0M168.4 828.5h0M171.1 829.4h0M130.5 882.5h0M198.6 855.5h0M198.6 841.5h0M204.5 834.4h0M212.5 830.4h0M218.4 838.4h0M228.4 830.4h0M234.5 825.5h0M239.5 821.6h0M182.4 844.6h0M185.5 842.2h0M187.5 843.6h0M182.4 832.5h0M187.5 829.7h0M190.5 829.4h0M182.7 827.6h0M185.4 827.0h0M182.4 824.6h0M184.8 822.8h0M186.6 821.6h0M181.2 822.2h0M197.4 823.7h0M199.7 823.7h0M198.0 821.6h0M202.4 825.5h0M204.5 827.6h0M205.1 822.2h0M208.5 825.4h0M143.5 801.4h0M151.5 806.4h0M168.4 795.4h0M171.5 799.4h0M174.5 802.4h0M177.5 799.2h0M182.5 801.0h0M180.5 803.5h0M191.5 802.2h0M192.1 804.6h0M174.5 782.4h0M182.4 777.4h0M185.5 776.4h0M190.4 776.4h0M184.5 782.4h0M191.5 786.5h0M193.3 780.4h0M194.2 769.4h0M194.2 794.5h0M177.2 786.4h0M179.6 786.7h0M180.8 788.8h0M183.1 790.9h0M185.8 790.6h0M184.3 792.7h0M185.8 804.3h0M187.9 805.5h0M189.7 807.3h0M192.7 808.8h0M170.3 808.5h0M175.4 809.4h0M177.2 811.5h0M171.5 814.4h0M171.5 818.4h0M163.4 813.9h0M164.9 814.2h0M164.6 818.4h0M159.5 819.0h0M182.5 810.6h0M185.5 810.6h0M182.5 813.6h0M185.5 813.6h0M183.7 816.6h0M186.7 817.2h0M184.3 819.6h0M180.8 818.4h0M178.4 817.2h0M175.4 819.3h0M189.7 812.4h0M192.7 813.0h0M189.7 815.4h0M194.5 814.8h0M187.3 820.1h0M212.5 761.6h0M224.3 761.6h0M218.5 764.4h0M220.5 768.5h0M224.3 770.6h0M226.7 769.7h0M229.4 767.3h0M231.2 769.7h0M237.4 765.4h0M255.5 761.0h0M244.4 771.5h0M259.4 771.5h0M274.5 766.5h0M274.5 775.5h0M250.5 776.4h0M241.5 778.4h0M244.4 783.5h0M229.5 780.4h0M198.4 770.4h0M205.5 768.5h0M204.0 771.5h0M206.7 772.4h0M197.4 776.4h0M207.6 775.9h0M209.7 777.4h0M204.9 779.5h0M208.5 781.6h0M206.4 784.5h0M211.5 784.0h0M209.4 786.7h0M211.5 790.5h0M199.5 787.3h0M218.6 775.3h0M219.6 777.6h0M220.4 775.6h0M215.5 793.4h0M212.5 796.4h0M204.0 796.3h0M207.6 796.3h0M208.5 797.4h0M208.5 801.4h0M212.5 801.4h0M204.6 801.0h0M200.7 802.2h0M202.5 802.2h0M200.4 806.4h0M204.6 805.5h0M210.4 805.5h0M217.4 804.3h0M215.5 807.6h0M204.0 810.0h0M197.4 810.6h0M199.5 813.6h0M196.2 814.2h0M204.6 814.4h0M207.6 814.4h0M200.7 817.5h0M226.4 789.4h0M230.5 791.5h0M234.5 788.4h0M237.4 791.5h0M232.5 797.4h0M232.5 803.5h0M238.5 803.5h0M260.5 794.3h0M263.6 796.4h0M267.5 809.4h0M229.2 714.4h0M215.5 721.5h0M207.4 724.5h0M223.5 727.5h0M199.4 732.4h0M223.5 738.5h0M215.5 750.4h0M211.4 753.4h0M216.5 755.4h0M223.5 755.4h0M229.5 755.4h0M211.4 757.5h0M205.5 758.4h0M190.5 758.4h0M222.9 759.8h0M241.5 719.4h0M253.5 717.4h0M263.5 718.4h0M260.5 721.5h0M257.5 729.4h0M256.5 733.6h0M265.5 733.3h0M268.6 735.5h0M283.5 728.5h0M281.4 735.5h0M233.5 736.4h0M234.5 741.0h0M246.5 740.4h0M260.5 746.5h0M265.5 744.4h0M272.4 747.4h0M271.4 751.6h0M256.5 753.4h0M283.2 750.0h0M285.3 749.1h0M290.5 749.4h0M282.4 753.6h0M288.5 753.6h0M309.2 709.4h0M283.4 638.5h0M318.5 657.6h0M318.5 686.5h0M293.4 690.4h0M262.3 696.2h0M231.5 698.5h0M287.3 698.5h0M310.5 700.4h0M383.5 630.5h0M314.5 728.4h0M320.5 734.5h0M363.5 736.5h0M392.5 721.5h0M347.5 750.4h0M285.6 768.4h0M282.4 776.5h0M299.5 774.5h0M294.5 780.5h0M111.5 728.4h0M111.5 738.5h0M111.5 744.1h0M111.5 746.4h0M111.5 752.5h0M111.5 759.5h0M111.5 770.6h0M111.5 776.6h0M111.5 794.8h0M111.5 797.6h0M111.5 803.2h0M111.5 805.0h0M111.5 809.5h0M111.5 815.5h0M111.5 819.5h0" stroke="#000" stroke-width="4.4" stroke-linecap="round" fill="none"/>
<text class="l" y="598.10"><tspan x="94.18" textLength="39.56" lengthAdjust="spacingAndGlyphs">Rel.</tspan> <tspan x="140.68" textLength="42.34" lengthAdjust="spacingAndGlyphs">bias</tspan> <tspan x="190.39" textLength="16.03" lengthAdjust="spacingAndGlyphs" class="e">=</tspan> <tspan x="220.67" textLength="58.70" lengthAdjust="spacingAndGlyphs">0.031</tspan></text>
<text class="l" y="634.60"><tspan x="94.19" textLength="19.02" lengthAdjust="spacingAndGlyphs">SI</tspan> <tspan x="120.58" textLength="16.03" lengthAdjust="spacingAndGlyphs" class="e">=</tspan> <tspan x="150.86" textLength="59.14" lengthAdjust="spacingAndGlyphs">0.339</tspan></text>
<text class="l" y="670.80"><tspan x="94.27" textLength="15.25" lengthAdjust="spacingAndGlyphs">N</tspan> <tspan x="117.03" textLength="16.03" lengthAdjust="spacingAndGlyphs" class="e">=</tspan> <tspan x="140.94" textLength="38.42" lengthAdjust="spacingAndGlyphs">332</tspan></text>
<text class="l" y="891.90"><tspan x="289.00" textLength="39.58" lengthAdjust="spacingAndGlyphs">96h</tspan> <tspan x="335.26" textLength="37.65" lengthAdjust="spacingAndGlyphs">fcst</tspan></text>
<text class="l" transform="translate(30.20 806.44) rotate(-90)" y="0"><tspan x="0.16" textLength="79.12" lengthAdjust="spacingAndGlyphs">Hs,mod</tspan> <tspan x="86.31" textLength="36.26" lengthAdjust="spacingAndGlyphs">(m)</tspan></text>
<text class="l" y="984.60"><tspan x="196.12" textLength="69.85" lengthAdjust="spacingAndGlyphs">Hs,obs</tspan> <tspan x="272.78" textLength="36.26" lengthAdjust="spacingAndGlyphs">(m)</tspan></text>
</g>
<g>
<rect x="520.05" y="561.00" width="366.95" height="367.00" fill="none" stroke="#000" stroke-width="1.67"/>
<path d="M536.00 928.00v7.3M520.05 911.00h-7.3M611.00 928.00v7.3M520.05 837.00h-7.3M685.00 928.00v7.3M520.05 763.00h-7.3M759.00 928.00v7.3M520.05 689.00h-7.3M833.00 928.00v7.3M520.05 614.00h-7.3" stroke="#000" stroke-width="1.67" fill="none"/>
<text class="t" y="956.70"><tspan x="531.74" textLength="9.83" lengthAdjust="spacingAndGlyphs">0</tspan></text>
<text class="t" y="919.10"><tspan x="495.41" textLength="9.83" lengthAdjust="spacingAndGlyphs">0</tspan></text>
<text class="t" y="956.70"><tspan x="606.19" textLength="9.44" lengthAdjust="spacingAndGlyphs">2</tspan></text>
<text class="t" y="845.10"><tspan x="495.96" textLength="9.44" lengthAdjust="spacingAndGlyphs">2</tspan></text>
<text class="t" y="956.70"><tspan x="680.30" textLength="9.85" lengthAdjust="spacingAndGlyphs">4</tspan></text>
<text class="t" y="771.10"><tspan x="495.22" textLength="9.85" lengthAdjust="spacingAndGlyphs">4</tspan></text>
<text class="t" y="956.70"><tspan x="754.28" textLength="10.17" lengthAdjust="spacingAndGlyphs">6</tspan></text>
<text class="t" y="697.10"><tspan x="495.18" textLength="10.17" lengthAdjust="spacingAndGlyphs">6</tspan></text>
<text class="t" y="956.70"><tspan x="828.72" textLength="9.93" lengthAdjust="spacingAndGlyphs">8</tspan></text>
<text class="t" y="622.10"><tspan x="495.39" textLength="9.93" lengthAdjust="spacingAndGlyphs">8</tspan></text>
<path d="M536.40 911.40L870.57 577.23" stroke="#000" stroke-width="3.1" stroke-dasharray="3.125 5.156" fill="none"/>
<path d="M563.3 822.5h0M563.3 825.5h0M563.3 840.4h0M563.3 848.5h0M563.3 851.5h0M569.5 867.4h0M569.5 875.4h0M581.4 863.4h0M581.4 876.4h0M591.4 864.4h0M596.4 863.5h0M592.4 860.1h0M596.4 859.2h0M596.4 856.3h0M589.8 856.8h0M589.2 854.2h0M585.4 853.4h0M580.5 854.5h0M581.1 853.7h0M584.2 845.4h0M588.4 846.4h0M592.4 845.4h0M595.3 843.4h0M592.4 849.5h0M596.4 847.3h0M599.3 849.5h0M596.1 851.5h0M585.4 831.5h0M592.4 833.4h0M599.3 832.4h0M601.1 835.0h0M603.5 836.5h0M603.3 826.4h0M603.8 830.0h0M599.3 840.4h0M600.5 843.4h0M602.9 844.3h0M604.1 843.1h0M606.5 846.1h0M607.1 848.5h0M610.4 850.3h0M611.3 852.4h0M611.3 858.0h0M615.5 856.4h0M615.5 863.5h0M630.1 873.4h0M611.3 841.3h0M612.5 838.9h0M614.6 839.2h0M615.5 847.3h0M617.3 844.3h0M618.5 840.1h0M618.5 837.1h0M620.3 834.4h0M624.4 839.2h0M629.8 841.5h0M622.3 844.3h0M626.2 847.0h0M615.2 831.2h0M626.2 830.0h0M626.2 833.5h0M618.5 826.1h0M629.2 827.3h0M610.1 828.8h0M610.1 825.8h0M610.8 823.4h0M606.5 821.9h0M609.5 821.6h0M612.5 822.2h0M621.5 824.0h0M624.4 824.0h0M627.4 823.4h0M629.8 822.2h0M624.4 821.6h0M622.6 825.2h0M592.4 881.6h0M634.4 857.4h0M638.4 847.5h0M637.4 842.4h0M650.4 844.5h0M655.4 842.4h0M670.4 848.5h0M633.3 834.4h0M645.3 835.5h0M649.5 833.4h0M679.3 828.5h0M691.4 826.5h0M696.5 824.4h0M659.4 826.5h0M663.4 827.5h0M655.4 822.5h0M644.4 826.5h0M648.3 825.2h0M635.4 827.0h0M632.8 824.0h0M635.1 824.6h0M637.5 822.8h0M633.9 821.6h0M644.8 821.6h0M647.1 822.8h0M649.5 821.3h0M634.4 770.4h0M645.1 771.5h0M641.3 775.5h0M621.4 777.4h0M636.5 779.5h0M645.1 781.5h0M628.4 790.5h0M633.2 789.7h0M635.6 790.3h0M633.5 792.1h0M631.1 793.6h0M642.4 792.1h0M641.8 794.5h0M643.3 796.8h0M638.2 798.5h0M640.6 798.5h0M643.6 799.2h0M629.4 798.5h0M617.3 801.4h0M622.4 804.4h0M629.4 805.5h0M603.4 809.4h0M603.4 815.4h0M622.4 808.5h0M625.4 809.4h0M628.4 810.3h0M633.3 810.4h0M637.3 807.3h0M639.4 808.8h0M643.0 803.7h0M641.8 805.8h0M643.6 808.2h0M645.4 808.8h0M612.4 813.4h0M615.2 815.4h0M618.8 813.6h0M619.4 816.6h0M622.1 817.8h0M626.3 813.0h0M628.1 814.8h0M626.3 816.6h0M631.4 816.0h0M637.3 814.2h0M637.3 817.2h0M641.8 813.0h0M642.4 816.6h0M640.6 818.4h0M633.5 819.6h0M629.3 819.6h0M625.1 820.1h0M619.8 819.6h0M655.8 762.2h0M663.3 764.0h0M667.3 766.5h0M670.4 767.5h0M675.2 766.5h0M679.4 764.4h0M682.4 762.2h0M684.2 764.0h0M683.4 766.7h0M652.4 771.5h0M652.4 775.5h0M657.4 773.4h0M669.4 772.4h0M676.4 776.4h0M681.4 773.4h0M681.4 777.4h0M670.4 783.5h0M702.4 768.5h0M695.4 773.4h0M697.3 777.4h0M689.4 788.5h0M696.4 787.5h0M712.4 791.5h0M722.4 781.5h0M725.4 774.4h0M650.4 786.1h0M650.4 788.5h0M657.3 787.3h0M663.9 788.5h0M659.1 789.7h0M656.8 792.1h0M654.3 793.6h0M651.3 794.8h0M648.3 793.9h0M649.2 799.4h0M670.4 794.2h0M670.4 797.4h0M671.5 799.8h0M675.4 800.4h0M678.4 800.4h0M683.4 796.3h0M683.4 799.2h0M688.4 797.1h0M689.4 800.4h0M655.5 799.2h0M654.9 802.2h0M658.8 802.2h0M663.6 801.3h0M663.6 803.1h0M648.3 804.4h0M651.9 807.3h0M654.9 805.8h0M658.8 807.4h0M661.8 807.4h0M654.3 810.6h0M651.9 812.4h0M655.5 812.4h0M658.5 813.6h0M670.4 815.4h0M666.4 819.3h0M649.2 817.2h0M651.9 819.0h0M715.4 806.5h0M718.4 817.3h0M680.1 704.4h0M666.4 722.4h0M674.4 729.5h0M656.4 733.4h0M666.4 742.4h0M675.3 742.4h0M656.4 749.4h0M635.4 753.4h0M680.8 750.4h0M663.4 757.3h0M659.4 758.4h0M650.4 760.1h0M669.4 759.3h0M674.4 760.1h0M694.4 705.5h0M716.4 704.4h0M692.4 721.5h0M685.4 732.1h0M685.4 735.7h0M694.4 732.5h0M704.4 742.4h0M707.4 740.3h0M712.4 744.4h0M706.5 749.4h0M741.4 717.4h0M734.3 723.5h0M760.8 748.5h0M683.3 751.4h0M692.3 757.8h0M710.4 759.3h0M720.4 757.3h0M735.4 755.4h0M733.3 759.6h0M769.5 615.5h0M734.3 638.5h0M714.4 673.3h0M673.4 688.5h0M736.5 686.5h0M744.4 690.6h0M765.6 695.3h0M738.2 698.3h0M835.3 688.4h0M762.3 710.4h0M798.4 716.4h0M843.2 749.6h0M814.3 761.5h0M727.4 764.5h0M736.5 769.5h0M732.4 777.7h0M746.1 782.3h0M751.5 782.3h0M748.3 785.7h0M783.5 783.3h0M733.4 790.4h0M771.4 796.4h0M563.5 677.5h0M563.5 746.1h0M563.5 749.4h0M563.5 758.1h0M563.5 760.5h0M563.5 764.7h0M563.5 780.4h0M563.5 781.4h0M563.5 792.5h0M563.5 793.2h0M563.5 803.5h0M563.5 805.9h0M563.5 810.5h0M563.5 814.6h0M563.5 816.4h0" stroke="#000" stroke-width="4.4" stroke-linecap="round" fill="none"/>
<text class="l" y="598.10"><tspan x="546.18" textLength="39.56" lengthAdjust="spacingAndGlyphs">Rel.</tspan> <tspan x="592.68" textLength="42.34" lengthAdjust="spacingAndGlyphs">bias</tspan> <tspan x="642.39" textLength="16.03" lengthAdjust="spacingAndGlyphs" class="e">=</tspan> <tspan x="672.67" textLength="58.64" lengthAdjust="spacingAndGlyphs">0.025</tspan></text>
<text class="l" y="634.60"><tspan x="546.19" textLength="19.02" lengthAdjust="spacingAndGlyphs">SI</tspan> <tspan x="572.58" textLength="16.03" lengthAdjust="spacingAndGlyphs" class="e">=</tspan> <tspan x="602.87" textLength="58.70" lengthAdjust="spacingAndGlyphs">0.371</tspan></text>
<text class="l" y="670.80"><tspan x="546.27" textLength="15.25" lengthAdjust="spacingAndGlyphs">N</tspan> <tspan x="569.03" textLength="16.03" lengthAdjust="spacingAndGlyphs" class="e">=</tspan> <tspan x="592.94" textLength="38.42" lengthAdjust="spacingAndGlyphs">332</tspan></text>
<text class="l" y="891.90"><tspan x="740.69" textLength="52.53" lengthAdjust="spacingAndGlyphs">120h</tspan> <tspan x="799.92" textLength="37.65" lengthAdjust="spacingAndGlyphs">fcst</tspan></text>
<text class="l" y="984.60"><tspan x="647.12" textLength="69.85" lengthAdjust="spacingAndGlyphs">Hs,obs</tspan> <tspan x="723.78" textLength="36.26" lengthAdjust="spacingAndGlyphs">(m)</tspan></text>
</g>
<g>
<rect x="971.07" y="561.00" width="367.93" height="367.00" fill="none" stroke="#000" stroke-width="1.67"/>
<path d="M988.00 928.00v7.3M971.07 911.00h-7.3M1062.00 928.00v7.3M971.07 837.00h-7.3M1136.00 928.00v7.3M971.07 763.00h-7.3M1211.00 928.00v7.3M971.07 689.00h-7.3M1285.00 928.00v7.3M971.07 614.00h-7.3" stroke="#000" stroke-width="1.67" fill="none"/>
<text class="t" y="956.70"><tspan x="983.14" textLength="9.83" lengthAdjust="spacingAndGlyphs">0</tspan></text>
<text class="t" y="919.10"><tspan x="946.43" textLength="9.83" lengthAdjust="spacingAndGlyphs">0</tspan></text>
<text class="t" y="956.70"><tspan x="1057.59" textLength="9.44" lengthAdjust="spacingAndGlyphs">2</tspan></text>
<text class="t" y="845.10"><tspan x="946.98" textLength="9.44" lengthAdjust="spacingAndGlyphs">2</tspan></text>
<text class="t" y="956.70"><tspan x="1131.70" textLength="9.85" lengthAdjust="spacingAndGlyphs">4</tspan></text>
<text class="t" y="771.10"><tspan x="946.24" textLength="9.85" lengthAdjust="spacingAndGlyphs">4</tspan></text>
<text class="t" y="956.70"><tspan x="1205.68" textLength="10.17" lengthAdjust="spacingAndGlyphs">6</tspan></text>
<text class="t" y="697.10"><tspan x="946.20" textLength="10.17" lengthAdjust="spacingAndGlyphs">6</tspan></text>
<text class="t" y="956.70"><tspan x="1280.12" textLength="9.93" lengthAdjust="spacingAndGlyphs">8</tspan></text>
<text class="t" y="622.10"><tspan x="946.41" textLength="9.93" lengthAdjust="spacingAndGlyphs">8</tspan></text>
<path d="M987.80 911.40L1321.97 577.23" stroke="#000" stroke-width="3.1" stroke-dasharray="3.125 5.156" fill="none"/>
<path d="M1014.4 821.6h0M1014.4 824.3h0M1014.4 827.0h0M1014.4 831.5h0M1014.4 833.7h0M1014.4 848.5h0M1014.4 857.4h0M1021.5 853.4h0M1021.5 876.4h0M1032.5 870.3h0M1043.5 873.4h0M1047.5 872.4h0M1042.5 866.4h0M1044.5 861.4h0M1036.5 858.5h0M1032.2 856.5h0M1032.5 851.5h0M1036.5 848.5h0M1036.5 844.3h0M1040.5 849.4h0M1040.5 854.5h0M1044.5 854.5h0M1047.5 856.3h0M1050.4 858.5h0M1047.5 849.1h0M1047.5 851.5h0M1039.5 835.5h0M1044.5 828.2h0M1044.5 830.3h0M1052.4 829.4h0M1054.6 832.4h0M1056.4 834.7h0M1057.9 835.6h0M1055.5 837.1h0M1050.4 836.8h0M1046.4 838.3h0M1043.9 840.4h0M1047.5 842.5h0M1051.5 842.5h0M1055.5 841.3h0M1058.2 840.7h0M1058.8 842.5h0M1062.5 837.4h0M1058.4 847.5h0M1062.5 850.5h0M1066.5 849.1h0M1066.5 853.6h0M1062.5 857.4h0M1070.5 852.7h0M1070.5 856.5h0M1070.5 840.1h0M1070.5 843.4h0M1073.4 847.5h0M1077.3 846.1h0M1077.4 841.5h0M1081.5 839.5h0M1081.2 863.5h0M1066.5 831.2h0M1070.5 833.5h0M1077.3 834.4h0M1078.8 835.3h0M1072.0 830.3h0M1055.4 822.2h0M1055.4 825.2h0M1062.4 824.0h0M1062.4 826.4h0M1066.5 825.5h0M1066.5 821.9h0M1070.8 825.2h0M1073.7 824.0h0M1075.5 827.0h0M1071.4 827.6h0M1077.9 825.2h0M1080.9 824.6h0M1081.5 828.8h0M1071.4 821.6h0M1076.7 821.6h0M1097.5 858.5h0M1086.5 852.4h0M1089.5 854.5h0M1084.4 844.5h0M1101.5 840.4h0M1088.5 839.2h0M1088.5 836.5h0M1159.5 825.5h0M1148.5 834.4h0M1157.4 841.5h0M1130.4 828.5h0M1129.4 821.6h0M1118.5 821.6h0M1122.5 827.5h0M1114.5 830.4h0M1106.5 832.4h0M1092.5 830.3h0M1094.0 834.4h0M1096.7 834.1h0M1099.1 832.7h0M1099.4 830.0h0M1101.5 827.6h0M1103.9 828.5h0M1099.4 824.4h0M1103.6 822.2h0M1084.4 822.8h0M1087.4 822.8h0M1084.4 825.8h0M1088.0 825.8h0M1085.0 828.8h0M1083.8 831.8h0M1086.8 831.8h0M1088.6 833.5h0M1084.4 834.7h0M1089.2 822.2h0M1032.5 818.4h0M1049.5 807.4h0M1052.5 812.4h0M1055.5 799.4h0M1062.5 783.5h0M1092.4 767.5h0M1096.2 770.4h0M1091.4 778.5h0M1083.5 782.4h0M1079.5 787.5h0M1084.6 786.5h0M1094.4 783.4h0M1094.1 786.7h0M1092.3 788.5h0M1094.7 788.8h0M1084.4 797.4h0M1092.4 797.4h0M1089.3 799.2h0M1088.4 802.2h0M1086.4 805.2h0M1094.1 804.0h0M1096.5 805.2h0M1062.5 801.3h0M1064.5 803.5h0M1070.4 798.9h0M1070.2 801.6h0M1073.5 801.4h0M1070.4 807.4h0M1066.5 808.2h0M1066.5 811.2h0M1062.5 809.4h0M1070.4 813.4h0M1062.5 814.2h0M1061.3 815.4h0M1059.5 819.3h0M1076.5 809.4h0M1077.4 812.4h0M1083.5 809.4h0M1079.2 815.4h0M1074.4 816.6h0M1070.8 818.4h0M1072.6 820.1h0M1079.8 818.4h0M1082.8 816.0h0M1084.6 813.0h0M1086.4 810.6h0M1089.3 808.2h0M1091.7 807.0h0M1088.7 813.0h0M1088.4 815.4h0M1093.8 811.2h0M1094.1 814.8h0M1091.7 817.8h0M1096.5 817.2h0M1085.2 818.4h0M1087.6 820.1h0M1077.4 820.1h0M1110.5 762.5h0M1118.4 761.9h0M1133.5 761.9h0M1132.3 766.4h0M1135.6 767.5h0M1109.5 767.5h0M1117.4 767.5h0M1118.4 771.5h0M1107.5 772.4h0M1101.5 772.4h0M1103.5 775.5h0M1122.6 772.9h0M1126.5 773.4h0M1120.5 776.5h0M1133.5 777.4h0M1136.5 777.4h0M1148.4 773.4h0M1155.5 780.4h0M1159.5 768.5h0M1167.6 769.4h0M1173.5 773.4h0M1156.5 761.9h0M1171.4 762.5h0M1163.5 787.5h0M1169.5 794.5h0M1100.5 782.4h0M1110.5 781.5h0M1106.6 785.2h0M1109.6 785.5h0M1114.7 785.5h0M1102.7 786.4h0M1103.5 788.8h0M1111.4 787.3h0M1109.3 790.3h0M1113.5 792.4h0M1109.3 792.7h0M1127.5 787.5h0M1131.5 786.5h0M1140.5 787.5h0M1147.5 786.5h0M1141.6 793.3h0M1142.5 792.1h0M1146.5 793.6h0M1126.5 799.4h0M1131.5 801.4h0M1133.5 800.1h0M1138.5 799.4h0M1135.6 804.4h0M1138.0 803.7h0M1107.5 796.3h0M1107.2 799.2h0M1109.0 801.6h0M1112.0 802.2h0M1114.4 800.4h0M1115.9 798.0h0M1115.9 796.0h0M1099.7 798.6h0M1098.8 802.2h0M1098.2 805.8h0M1103.5 802.4h0M1104.8 805.5h0M1110.5 806.5h0M1115.6 808.4h0M1114.5 812.4h0M1103.0 808.2h0M1106.6 808.8h0M1101.8 810.6h0M1104.8 811.8h0M1107.8 811.8h0M1106.6 814.8h0M1108.4 816.6h0M1099.4 814.2h0M1098.2 816.6h0M1101.2 820.1h0M1135.6 818.4h0M1131.2 715.5h0M1107.5 736.4h0M1117.5 740.4h0M1081.5 749.4h0M1087.5 754.4h0M1073.6 758.4h0M1100.4 749.4h0M1103.4 748.5h0M1107.5 757.3h0M1114.5 756.4h0M1121.5 753.4h0M1126.4 752.4h0M1131.8 753.4h0M1136.5 726.5h0M1136.5 731.5h0M1157.4 739.2h0M1163.5 740.4h0M1149.5 743.4h0M1136.5 749.4h0M1143.5 749.4h0M1153.6 753.4h0M1162.5 749.4h0M1178.5 753.4h0M1186.5 755.4h0M1190.5 744.4h0M1196.5 746.4h0M1195.5 734.5h0M1183.4 701.0h0M1221.5 635.4h0M1165.5 679.4h0M1185.4 686.2h0M1188.5 688.6h0M1193.5 689.2h0M1197.3 694.5h0M1212.3 697.4h0M1125.4 698.5h0M1286.2 608.2h0M1266.6 692.6h0M1232.4 710.4h0M1216.5 735.3h0M1213.4 755.5h0M1278.5 755.5h0M1295.6 759.4h0M1207.4 770.5h0M1185.4 778.3h0M1183.3 788.4h0M1202.4 789.6h0M1222.5 790.6h0M1235.4 798.4h0M1199.4 804.5h0M1185.4 807.6h0M1014.6 720.5h0M1014.6 738.2h0M1014.6 740.6h0M1014.6 746.4h0M1014.6 756.4h0M1014.6 770.5h0M1014.6 774.5h0M1014.6 781.5h0M1014.6 786.8h0M1014.6 787.5h0M1014.6 796.5h0M1014.6 804.4h0M1014.6 818.3h0" stroke="#000" stroke-width="4.4" stroke-linecap="round" fill="none"/>
<text class="l" y="598.10"><tspan x="997.18" textLength="39.56" lengthAdjust="spacingAndGlyphs">Rel.</tspan> <tspan x="1043.68" textLength="42.34" lengthAdjust="spacingAndGlyphs">bias</tspan> <tspan x="1093.39" textLength="16.03" lengthAdjust="spacingAndGlyphs" class="e">=</tspan> <tspan x="1123.67" textLength="59.21" lengthAdjust="spacingAndGlyphs">0.006</tspan></text>
<text class="l" y="634.60"><tspan x="997.19" textLength="19.02" lengthAdjust="spacingAndGlyphs">SI</tspan> <tspan x="1023.58" textLength="16.03" lengthAdjust="spacingAndGlyphs" class="e">=</tspan> <tspan x="1053.86" textLength="58.88" lengthAdjust="spacingAndGlyphs">0.377</tspan></text>
<text class="l" y="670.80"><tspan x="997.27" textLength="15.25" lengthAdjust="spacingAndGlyphs">N</tspan> <tspan x="1020.03" textLength="16.03" lengthAdjust="spacingAndGlyphs" class="e">=</tspan> <tspan x="1043.94" textLength="38.42" lengthAdjust="spacingAndGlyphs">332</tspan></text>
<text class="l" y="891.90"><tspan x="1192.69" textLength="52.53" lengthAdjust="spacingAndGlyphs">144h</tspan> <tspan x="1251.92" textLength="37.65" lengthAdjust="spacingAndGlyphs">fcst</tspan></text>
<text class="l" y="984.60"><tspan x="1098.12" textLength="69.85" lengthAdjust="spacingAndGlyphs">Hs,obs</tspan> <tspan x="1174.78" textLength="36.26" lengthAdjust="spacingAndGlyphs">(m)</tspan></text>
</g>
</svg></body></html>
